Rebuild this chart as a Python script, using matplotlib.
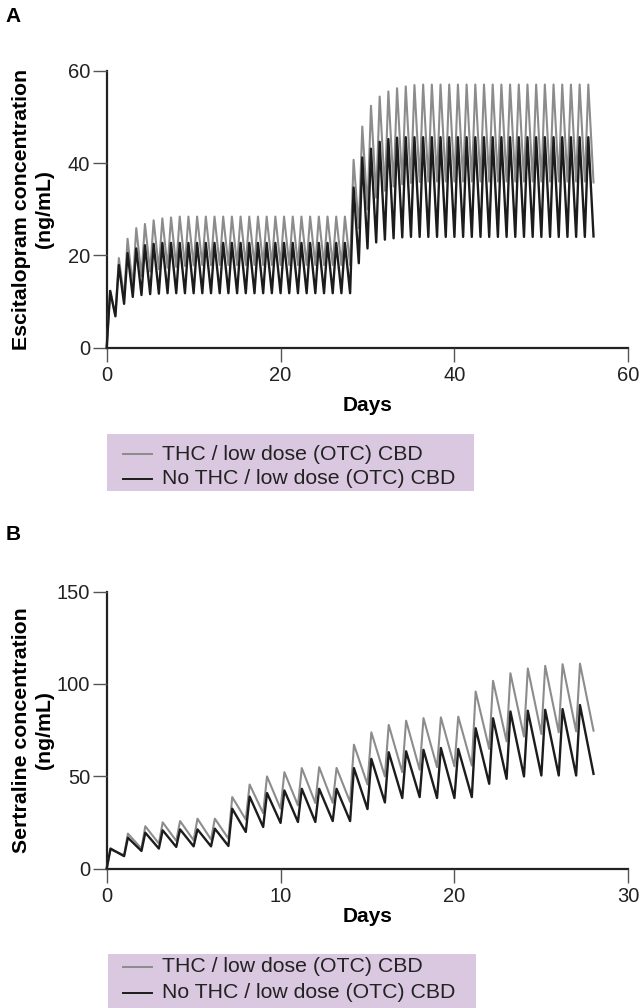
import matplotlib
matplotlib.use("Agg")
import matplotlib.pyplot as plt
from matplotlib.patches import Rectangle
from matplotlib.lines import Line2D

plt.rcParams['font.family'] = ['Liberation Sans', 'DejaVu Sans']

# ---------------- Data: panel A (escitalopram), daily dosing, dose doubled at day 28
days_A = list(range(56))
thc_peak_A = [12.3, 19.4, 23.6, 25.9, 26.8, 27.6, 28.0, 28.2, 28.4, 28.4,
              28.4, 28.4, 28.4, 28.4, 28.4, 28.4, 28.4, 28.4, 28.4, 28.4,
              28.4, 28.4, 28.4, 28.4, 28.4, 28.4, 28.4, 28.4,
              40.7, 47.9, 52.4, 54.4, 55.5, 56.2, 56.6, 56.9, 57.0, 57.0,
              57.0, 57.0, 57.0, 57.0, 57.0, 57.0, 57.0, 57.0, 57.0, 57.0,
              57.0, 57.0, 57.0, 57.0, 57.0, 57.0, 57.0, 57.0]
thc_trough_A = [7.0, 10.8, 13.3, 15.5, 16.5, 17.0, 17.3, 17.5, 17.7, 17.8,
                17.9, 17.9, 17.9, 17.9, 17.9, 17.9, 17.9, 17.9, 17.9, 17.9,
                17.9, 17.9, 17.9, 17.9, 17.9, 17.9, 17.9, 17.9,
                25.9, 30.0, 32.5, 34.0, 34.9, 35.4, 35.7, 35.9, 36.0, 36.0,
                36.0, 36.0, 36.0, 36.0, 36.0, 36.0, 36.0, 36.0, 36.0, 36.0,
                36.0, 36.0, 36.0, 36.0, 36.0, 36.0, 36.0, 35.8]
nothc_peak_A = [12.3, 17.9, 20.5, 21.5, 22.2, 22.5, 22.7, 22.7, 22.7, 22.7,
                22.7, 22.7, 22.7, 22.7, 22.7, 22.7, 22.7, 22.7, 22.7, 22.7,
                22.7, 22.7, 22.7, 22.7, 22.7, 22.7, 22.7, 22.7,
                34.7, 41.2, 43.1, 44.6, 45.2, 45.5, 45.6, 45.6, 45.6, 45.6,
                45.6, 45.6, 45.6, 45.6, 45.6, 45.6, 45.6, 45.6, 45.6, 45.6,
                45.6, 45.6, 45.6, 45.6, 45.6, 45.6, 45.6, 45.6]
nothc_trough_A = [6.8, 9.5, 11.0, 11.4, 11.6, 11.7, 11.8, 11.8, 11.8, 11.8,
                  11.8, 11.8, 11.8, 11.8, 11.8, 11.8, 11.8, 11.8, 11.8, 11.8,
                  11.8, 11.8, 11.8, 11.8, 11.8, 11.8, 11.8, 11.8,
                  18.3, 21.5, 22.8, 23.4, 23.7, 23.9, 24.0, 24.0, 24.0, 24.0,
                  24.0, 24.0, 24.0, 24.0, 24.0, 24.0, 24.0, 24.0, 24.0, 24.0,
                  24.0, 24.0, 24.0, 24.0, 24.0, 24.0, 24.0, 24.1]

# ---------------- Data: panel B (sertraline), daily dosing, weekly dose increase
days_B = list(range(28))
thc_peak_B = [10.3, 18.9, 22.9, 25.0, 25.7, 27.0, 27.0,
              38.7, 45.5, 49.9, 52.2, 54.4, 54.9, 54.5,
              67.1, 73.8, 77.8, 80.1, 81.5, 81.9, 82.3,
              95.9, 101.7, 105.8, 108.4, 109.8, 110.7, 111.0]
thc_trough_B = [7.2, 10.8, 13.5, 15.0, 15.3, 15.7, 16.2,
                26.5, 30.0, 32.4, 34.2, 35.5, 35.6, 36.0,
                45.5, 49.9, 52.2, 53.5, 54.9, 55.4, 55.8,
                64.8, 68.9, 71.5, 72.9, 73.8, 74.3, 74.7]
nothc_peak_B = [10.8, 16.7, 19.4, 20.7, 21.2, 21.2, 21.6,
                32.4, 39.0, 40.9, 42.3, 43.2, 43.2, 43.2,
                54.4, 59.4, 63.0, 63.5, 64.3, 65.3, 64.8,
                76.0, 81.4, 85.1, 85.5, 86.0, 86.4, 88.6]
nothc_trough_B = [6.7, 9.5, 10.8, 11.7, 12.0, 12.0, 12.2,
                  19.8, 22.5, 24.7, 25.2, 25.2, 25.7, 25.7,
                  32.2, 35.8, 38.2, 38.7, 38.2, 38.2, 38.7,
                  45.9, 48.6, 49.9, 50.4, 50.4, 50.4, 51.3]

legend_labels = ["THC / low dose (OTC) CBD", "No THC / low dose (OTC) CBD"]

GRAY = "#8c8c8c"
BLACK = "#1c1c1c"


def profile(days, peaks, troughs, peak_offset):
    t = [days[0]]
    y = [0.0]
    for d, p, tr in zip(days, peaks, troughs):
        t += [d + peak_offset, d + 1]
        y += [p, tr]
    return t, y


W, H = 642, 1008
fig = plt.figure(figsize=(W / 100, H / 100), dpi=100)


def px_axes(left, top, right, bottom):
    return fig.add_axes([left / W, 1 - bottom / H, (right - left) / W, (bottom - top) / H])


def style_axes(ax, xlim, xticks, ylim, yticks, ylabel, xlabel_off, ylabel_x):
    ax.set_xlim(*xlim)
    ax.set_ylim(*ylim)
    ax.set_xticks(xticks)
    ax.set_yticks(yticks)
    for s in ("top", "right"):
        ax.spines[s].set_visible(False)
    for s in ("left", "bottom"):
        ax.spines[s].set_linewidth(1.6)
        ax.spines[s].set_color("#222222")
        ax.spines[s].set_zorder(1)
    ax.tick_params(length=10, width=1.0, color="#555555", labelsize=14.5,
                   labelcolor="#222222")
    ax.tick_params(axis="x", pad=3)
    ax.tick_params(axis="y", pad=2)
    ax.set_xlabel("Days", fontsize=15, fontweight="bold", va="center")
    ax.xaxis.set_label_coords(0.5, xlabel_off)
    ax.set_ylabel(ylabel, fontsize=15.3, fontweight="bold", va="center", ha="center",
                  linespacing=1.25)
    ax.yaxis.set_label_coords(ylabel_x, 0.5)


def draw_legend(box_left, box_top, box_right, box_bottom, row1, row2):
    fig.patches.append(Rectangle((box_left / W, 1 - box_bottom / H),
                                 (box_right - box_left) / W, (box_bottom - box_top) / H,
                                 transform=fig.transFigure, facecolor="#dac7e0",
                                 edgecolor="none", zorder=0))
    for row, col, lab in ((row1, GRAY, legend_labels[0]), (row2, BLACK, legend_labels[1])):
        fig.lines.append(Line2D([123 / W, 152 / W], [1 - row / H, 1 - row / H],
                                transform=fig.transFigure, color=col, lw=1.4))
        fig.text(162 / W, 1 - row / H, lab, fontsize=15.3, color="#222222",
                 va="center", ha="left")


# ---------------- Panel A
axA = px_axes(106.7, 70.7, 628.3, 347.7)
t, y = profile(days_A, thc_peak_A, thc_trough_A, 0.4)
axA.plot(t, y, color=GRAY, lw=1.5, label=legend_labels[0], clip_on=False, zorder=2)
t, y = profile(days_A, nothc_peak_A, nothc_trough_A, 0.4)
axA.plot(t, y, color=BLACK, lw=1.7, label=legend_labels[1], clip_on=False, zorder=3)
style_axes(axA, (0, 60), [0, 20, 40, 60], (0, 60), [0, 20, 40, 60],
           "Escitalopram concentration\n(ng/mL)", -57.3 / 277, -0.1418)
fig.text(13 / W, 1 - 16 / H, "A", fontsize=15, fontweight="bold", ha="center", va="center")
draw_legend(107, 434, 474, 491, 454, 479)

# ---------------- Panel B
axB = px_axes(106.7, 591.7, 628.3, 868.5)
t, y = profile(days_B, thc_peak_B, thc_trough_B, 0.22)
axB.plot(t, y, color=GRAY, lw=1.5, label=legend_labels[0], clip_on=False, zorder=2)
t, y = profile(days_B, nothc_peak_B, nothc_trough_B, 0.22)
axB.plot(t, y, color=BLACK, lw=1.7, label=legend_labels[1], clip_on=False, zorder=3)
style_axes(axB, (0, 30), [0, 10, 20, 30], (0, 150), [0, 50, 100, 150],
           "Sertraline concentration\n(ng/mL)", -48 / 277, -0.1418)
fig.text(13 / W, 1 - 535 / H, "B", fontsize=15, fontweight="bold", ha="center", va="center")
draw_legend(107.6, 954, 475.6, 1008, 967, 993)

fig.savefig("out.png", dpi=100)
